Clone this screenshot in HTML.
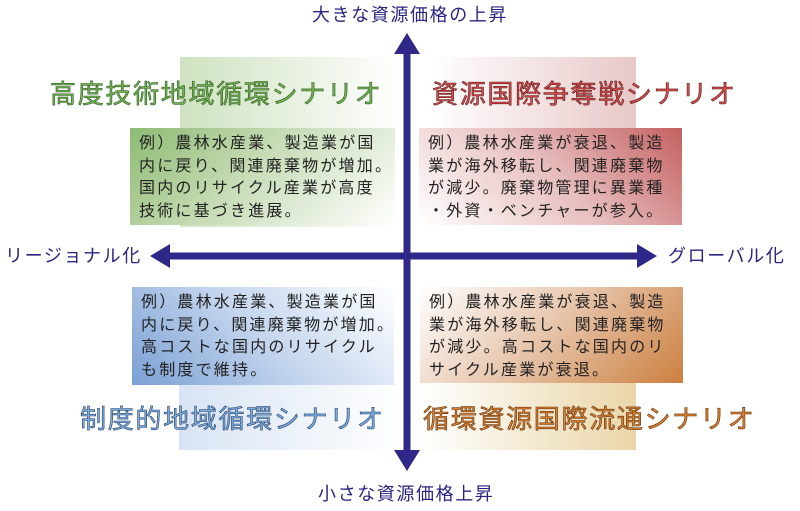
<!DOCTYPE html>
<html><head><meta charset="utf-8"><style>
body{margin:0;width:800px;height:511px;background:#fff;position:relative;overflow:hidden;font-family:"Liberation Sans","Noto Sans CJK JP",sans-serif;}
.a{position:absolute;}
.lab{position:absolute;color:#2a2580;font-size:18px;letter-spacing:1.6px;white-space:nowrap;line-height:20px;}
.box{position:absolute;box-sizing:border-box;padding:5px 0 0 9px;font-size:16px;letter-spacing:2.2px;line-height:22.5px;color:#222;white-space:nowrap;}
.ttl{position:absolute;font-size:26px;font-weight:normal;white-space:nowrap;line-height:30px;letter-spacing:1.7px;}
</style></head><body>
<div class="a" style="left:180px;top:57px;width:220px;height:170px;background:linear-gradient(90deg,#cfe2c0,#ffffff)"></div>
<div class="a" style="left:430px;top:57px;width:206px;height:72px;background:linear-gradient(90deg,#ffffff,#e8c8c8)"></div>
<div class="a" style="left:179px;top:384px;width:221px;height:66px;background:linear-gradient(90deg,#d8e4f4,#ffffff)"></div>
<div class="a" style="left:420px;top:383px;width:216px;height:67px;background:linear-gradient(90deg,#ffffff,#ead6a8)"></div>
<div class="box" style="left:130px;top:128px;width:265px;height:97px;background:linear-gradient(135deg,#8dbb72 0%,#c7dcb6 45%,#ffffff 100%)">例）農林水産業、製造業が国<br>内に戻り、関連廃棄物が増加。<br>国内のリサイクル産業が高度<br>技術に基づき進展。</div>
<div class="box" style="left:419px;top:128px;width:263px;height:97px;background:linear-gradient(45deg,#ffffff 0%,#e8c0c0 50%,#c46060 100%)">例）農林水産業が衰退、製造<br>業が海外移転し、関連廃棄物<br>が減少。廃棄物管理に異業種<br>・外資・ベンチャーが参入。</div>
<div class="box" style="left:132px;top:287px;width:262px;height:98px;background:linear-gradient(45deg,#7aa0d4 0%,#c5d6ee 50%,#ffffff 100%)">例）農林水産業、製造業が国<br>内に戻り、関連廃棄物が増加。<br>高コストな国内のリサイクル<br>も制度で維持。</div>
<div class="box" style="left:420px;top:287px;width:263px;height:96px;background:linear-gradient(135deg,#ffffff 0%,#e8c8b0 45%,#cc8040 100%)">例）農林水産業が衰退、製造<br>業が海外移転し、関連廃棄物<br>が減少。高コストな国内のリ<br>サイクル産業が衰退。</div>
<div class="ttl" style="left:50px;top:79px;color:#72b452;-webkit-text-stroke:0.6px #2f5a22;">高度技術地域循環シナリオ</div>
<div class="ttl" style="left:432px;top:79px;color:#d84c4c;-webkit-text-stroke:0.6px #5a1a1a;">資源国際争奪戦シナリオ</div>
<div class="ttl" style="left:80px;top:404px;color:#78b0e4;-webkit-text-stroke:0.6px #2a3f66;">制度的地域循環シナリオ</div>
<div class="ttl" style="left:423px;top:404px;color:#e0802a;-webkit-text-stroke:0.6px #5a3010;">循環資源国際流通シナリオ</div>
<svg class="a" style="left:0;top:0" width="800" height="511">
<g fill="#2e2888">
<rect x="403.5" y="50" width="7" height="405"/>
<polygon points="407,33 394,54 420,54"/>
<polygon points="407,471 394,450 420,450"/>
<rect x="168" y="252.5" width="472" height="7"/>
<polygon points="657,256 637,244 637,268"/>
<polygon points="150,256 170,244 170,268"/>
</g>
</svg>
<div class="lab" style="left:312px;top:5px;">大きな資源価格の上昇</div>
<div class="lab" style="left:318px;top:484px;">小さな資源価格上昇</div>
<div class="lab" style="left:5px;top:246px;">リージョナル化</div>
<div class="lab" style="left:668px;top:246px;">グローバル化</div>
</body></html>
